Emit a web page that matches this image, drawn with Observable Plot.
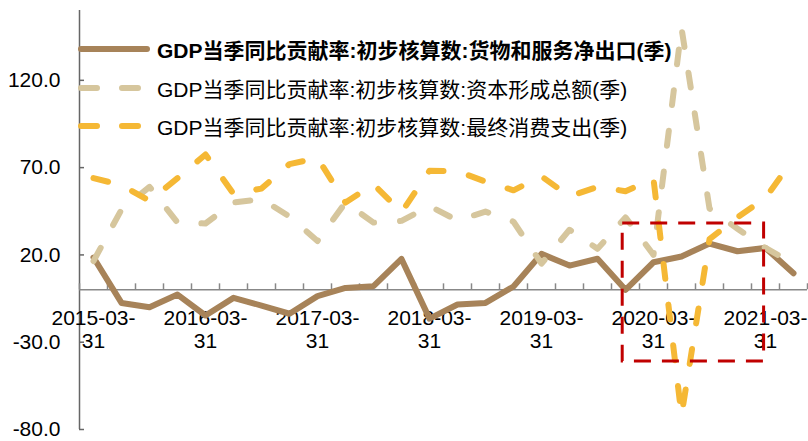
<!DOCTYPE html>
<html>
<head>
<meta charset="utf-8">
<script src="https://cdn.jsdelivr.net/npm/d3@7"></script>
<script src="https://cdn.jsdelivr.net/npm/@observablehq/plot@0.6"></script>
<style>
  body { margin: 0; background: #fff; }
  #chart { position: relative; width: 808px; height: 441px; }
  .legend { position: absolute; left: 0; top: 0; font-family: "Liberation Sans", "Noto Sans CJK SC", sans-serif; font-size: 21px; color: #000; }
  .row { position: absolute; left: 78px; height: 30px; display: flex; align-items: center; white-space: nowrap; }
  .row svg { display: block; margin-right: 5px; }
  .row.bold span { font-weight: bold; }
</style>
</head>
<body>
<div id="chart"></div>
<script>
// Quarter-end dates (category axis)
const quarters = [
  "2015-03-31", "2015-06-30", "2015-09-30", "2015-12-31",
  "2016-03-31", "2016-06-30", "2016-09-30", "2016-12-31",
  "2017-03-31", "2017-06-30", "2017-09-30", "2017-12-31",
  "2018-03-31", "2018-06-30", "2018-09-30", "2018-12-31",
  "2019-03-31", "2019-06-30", "2019-09-30", "2019-12-31",
  "2020-03-31", "2020-06-30", "2020-09-30", "2020-12-31",
  "2021-03-31", "2021-06-30"
];

// Contribution rates to quarterly GDP growth (%)
const netExports = [
  18.5, -7.5, -10, -2.7, -14.7, -4.6, -9, -13.7,
  -3.6, 1.1, 2.1, 17.7, -16.5, -8.4, -7.5, 1.9,
  20.6, 13.9, 17.8, 0, 15.8, 19.1, 26.5, 22.1,
  24, 9.5
];
const capitalFormation = [
  16.5, 46, 59, 38.5, 38, 50, 52, 42,
  28, 50, 38.5, 39.5, 48, 39.7, 44.8, 39,
  15, 34.4, 23.5, 41.5, 20, 150, 46.5, 35,
  24, 15
];
const consumption = [
  64, 60, 51, 64, 77.5, 55, 58, 72,
  75.5, 50, 60.5, 44.4, 68.2, 68, 62, 57,
  65, 53.5, 59, 56.5, 63.5, -72, 29, 41.5,
  52.7, 75
];

const yTicks = [-80, -30, 20, 70, 120];

const seriesNames = [
  "GDP当季同比贡献率:初步核算数:货物和服务净出口(季)",
  "GDP当季同比贡献率:初步核算数:资本形成总额(季)",
  "GDP当季同比贡献率:初步核算数:最终消费支出(季)"
];
const seriesColors = ["#A78359", "#D6C69D", "#F5B835"];

// Highlighted window (category index range, value range)
const highlightX = [18.9, 23.95];
const highlightY = [-41, 38];

const rows = quarters.map((q, i) => ({
  i, q,
  net: netExports[i],
  cap: capitalFormation[i],
  con: consumption[i]
}));
const labelRows = rows.filter(d => d.i % 4 === 0);
const boundaries = d3.range(quarters.length + 1).map(k => k - 0.5);

const lineStyle = {x: "i", strokeWidth: 6, strokeLinejoin: "round", strokeLinecap: "round"};

const plot = Plot.plot({
  width: 808,
  height: 441,
  marginLeft: 79,
  marginRight: 1,
  marginTop: 10,
  marginBottom: 12,
  style: {fontFamily: "'Liberation Sans', Arial, sans-serif", fontSize: "21px", color: "#000", background: "#fff"},
  x: {type: "linear", domain: [-0.5, quarters.length - 0.5], axis: null},
  y: {domain: [-80, 160], axis: null},
  marks: [
    // value axis
    Plot.ruleX([-0.5], {stroke: "#666", strokeWidth: 1.5}),
    Plot.ruleY(yTicks, {x1: -0.5, x2: -0.5, insetRight: -5, stroke: "#666", strokeWidth: 1.5}),
    Plot.axisY(yTicks, {tickSize: 0, tickPadding: 19, tickFormat: d => d.toFixed(1), fontSize: 21, fill: "#000"}),
    // category axis crossing at zero
    Plot.ruleY([0], {stroke: "#888", strokeWidth: 1.5}),
    Plot.ruleX(boundaries, {y1: () => 0, y2: () => 0, insetTop: -6, stroke: "#888", strokeWidth: 1.5}),
    Plot.text(labelRows, {
      x: "i", y: () => 0,
      text: d => d.q.slice(0, 8) + "\n" + d.q.slice(8),
      dy: 39, lineAnchor: "middle", lineHeight: 1.14, fontSize: 21, fill: "#000"
    }),
    // series
    Plot.line(rows, {...lineStyle, y: "net", stroke: seriesColors[0]}),
    Plot.line(rows, {...lineStyle, y: "cap", stroke: seriesColors[1], strokeDasharray: "15,26"}),
    Plot.line(rows, {...lineStyle, y: "con", stroke: seriesColors[2], strokeDasharray: "15,26"}),
    // highlighted window
    Plot.rect([{}], {
      x1: () => highlightX[0], x2: () => highlightX[1],
      y1: () => highlightY[0], y2: () => highlightY[1],
      fill: "none", stroke: "#C00000", strokeWidth: 3, strokeDasharray: "17,11"
    })
  ]
});

const chart = document.getElementById("chart");
chart.appendChild(plot);

// Legend drawn over the top-left of the plot area
const legend = document.createElement("div");
legend.className = "legend";
const rowCenters = [49, 88, 126];
const dashes = [null, "16,25", "16,25"];
seriesNames.forEach((name, k) => {
  const row = document.createElement("div");
  row.className = "row" + (k === 0 ? " bold" : "");
  row.style.top = (rowCenters[k] - 15) + "px";
  const dash = dashes[k] ? ` stroke-dasharray="${dashes[k]}"` : "";
  row.innerHTML =
    `<svg width="74" height="8"><line x1="3" y1="4" x2="69" y2="4" stroke="${seriesColors[k]}" stroke-width="6" stroke-linecap="round"${dash}/></svg>` +
    `<span>${name}</span>`;
  legend.appendChild(row);
});
chart.appendChild(legend);
</script>
</body>
</html>
